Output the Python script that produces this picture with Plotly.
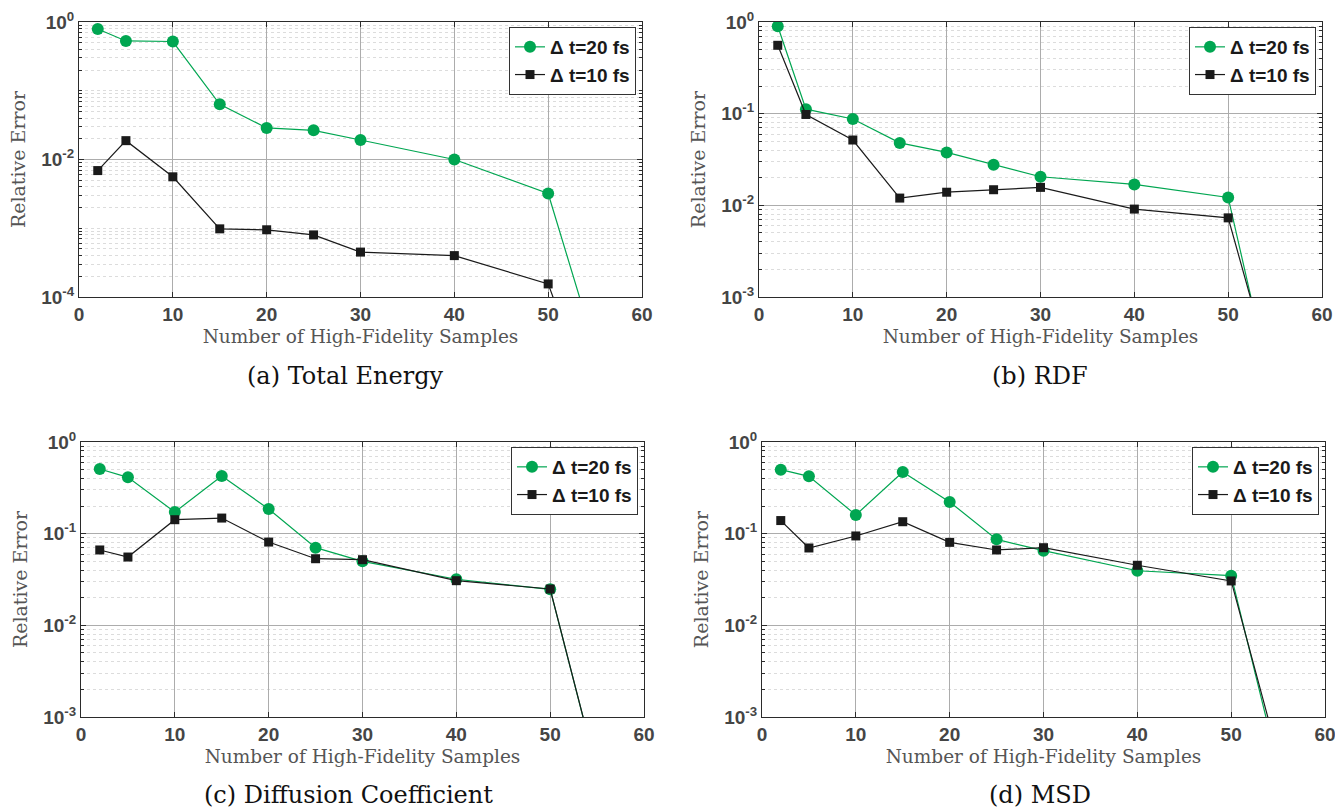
import plotly.graph_objects as go

# ---------------- data ----------------
samples = [2, 5, 10, 15, 20, 25, 30, 40, 50, 60]

energy_dt20 = [0.79, 0.53, 0.52, 0.0635, 0.0288, 0.0266, 0.0192, 0.0100, 0.0032, 1.0e-7]
energy_dt10 = [0.0069, 0.0188, 0.0056, 0.00098, 0.00095, 0.00080, 0.00045, 0.00040, 0.000155, 3.0e-8]

rdf_dt20 = [0.90, 0.112, 0.0875, 0.048, 0.0378, 0.0277, 0.0205, 0.0169, 0.0122, 4.0e-7]
rdf_dt10 = [0.557, 0.098, 0.0516, 0.0120, 0.0139, 0.0148, 0.0157, 0.0091, 0.0073, 1.6e-6]

diff_dt20 = [0.507, 0.412, 0.172, 0.426, 0.186, 0.0704, 0.0499, 0.0318, 0.0247, 2.6e-6]
diff_dt10 = [0.0664, 0.0556, 0.142, 0.148, 0.081, 0.0533, 0.052, 0.0307, 0.0249, 2.6e-6]

msd_dt20 = [0.499, 0.422, 0.160, 0.471, 0.222, 0.0867, 0.0652, 0.0394, 0.0348, 2.4e-6]
msd_dt10 = [0.139, 0.0698, 0.0944, 0.135, 0.0804, 0.0664, 0.0703, 0.0452, 0.0305, 4.8e-6]

series_names = ["\u0394 t=20 fs", "\u0394 t=10 fs"]
captions = ["(a) Total Energy", "(b) RDF", "(c) Diffusion Coefficient", "(d) MSD"]
x_title = "Number of High-Fidelity Samples"
y_title = "Relative Error"
x_ticks = [0, 10, 20, 30, 40, 50, 60]

# (log10 min, log10 max, major exponents) per panel
y_specs = [(-4, 0, [-4, -2, 0]), (-3, 0, [-3, -2, -1, 0]),
           (-3, 0, [-3, -2, -1, 0]), (-3, 0, [-3, -2, -1, 0])]

panels = [(energy_dt20, energy_dt10), (rdf_dt20, rdf_dt10),
          (diff_dt20, diff_dt10), (msd_dt20, msd_dt10)]

# ---------------- layout geometry ----------------
W, H = 1335, 808
px_x = [(79, 642), (759, 1322), (81, 644), (762, 1325)]
px_y = [(22, 297), (22, 297), (442, 717), (442, 717)]
cap_pos = [(346, 376), (1040, 376), (348, 795), (1040, 795)]

GREEN = "#00A651"
BLACK = "#1a1a1a"
AXC = "#2b2b2b"
TICK_FONT = dict(family="Arial, Liberation Sans", size=19, color="#454545", weight="bold")
SERIF = "DejaVu Serif"

fig = go.Figure()
layout = dict(width=W, height=H, margin=dict(l=0, r=0, t=0, b=0, autoexpand=False),
              template="none",
              paper_bgcolor="white", plot_bgcolor="white", showlegend=True,
              annotations=[])

for i, (s20, s10) in enumerate(panels):
    k = "" if i == 0 else str(i + 1)
    xa, ya = "x" + k, "y" + k
    leg = "legend" + k
    fig.add_trace(go.Scatter(x=samples, y=s20, mode="lines+markers", name=series_names[0],
                             line=dict(color=GREEN, width=1.2),
                             marker=dict(symbol="circle", size=12, color=GREEN),
                             xaxis=xa, yaxis=ya, legend=leg))
    fig.add_trace(go.Scatter(x=samples, y=s10, mode="lines+markers", name=series_names[1],
                             line=dict(color=BLACK, width=1.2),
                             marker=dict(symbol="square", size=9, color=BLACK),
                             xaxis=xa, yaxis=ya, legend=leg))

    x0, x1 = px_x[i]
    y0, y1 = px_y[i]
    xdom = [x0 / W, x1 / W]
    ydom = [1 - y1 / H, 1 - y0 / H]
    lo, hi, majors = y_specs[i]
    minor_vals = [m * 10 ** e for e in range(lo, hi) for m in range(1, 10)
                  if not (m == 1 and e in majors)]

    layout["xaxis" + k] = dict(
        domain=xdom, anchor=ya, range=[0, 60], tickmode="array", tickvals=x_ticks,
        ticks="inside", ticklen=5, tickcolor=AXC, showline=True, linecolor=AXC,
        linewidth=1, mirror="ticks", showgrid=True, gridcolor="#acacac", gridwidth=1,
        zeroline=False, tickfont=TICK_FONT, automargin=False, ticklabeloverflow="allow",
        title=dict(text=x_title, font=dict(family=SERIF, size=18.5, color="#555555"), standoff=6))
    layout["yaxis" + k] = dict(
        domain=ydom, anchor=xa, type="log", range=[lo, hi], tickmode="array",
        tickvals=[10 ** e for e in majors],
        ticktext=["10<sup>%d</sup>" % e for e in majors],
        ticks="inside", ticklen=5, tickcolor=AXC, showline=True, linecolor=AXC,
        linewidth=1, mirror="ticks", showgrid=True, gridcolor="#acacac", gridwidth=1,
        zeroline=False, tickfont=TICK_FONT, automargin=False, ticklabeloverflow="allow",
        minor=dict(tickmode="array", tickvals=minor_vals, ticks="inside", ticklen=3,
                   tickcolor=AXC, showgrid=True, gridcolor="#dcdcdc", griddash="dot"),
        title=dict(text=y_title, font=dict(family=SERIF, size=19, color="#555555"), standoff=10))
    layout[leg] = dict(
        x=(x1 - 6) / W, y=1 - (y0 + 5) / H, xanchor="right", yanchor="top",
        bgcolor="white", bordercolor="#333333", borderwidth=1,
        font=dict(family="Arial, Liberation Sans", size=19, color="#1a1a1a", weight="bold"),
        itemwidth=30, tracegroupgap=0)
    cx, cy = cap_pos[i]
    layout["annotations"].append(dict(
        text=captions[i], x=cx / W, y=1 - cy / H, xref="paper", yref="paper",
        showarrow=False, xanchor="center", yanchor="middle",
        font=dict(family=SERIF, size=24, color="#111111")))

fig.update_layout(**layout)
fig.write_html("out.html")
